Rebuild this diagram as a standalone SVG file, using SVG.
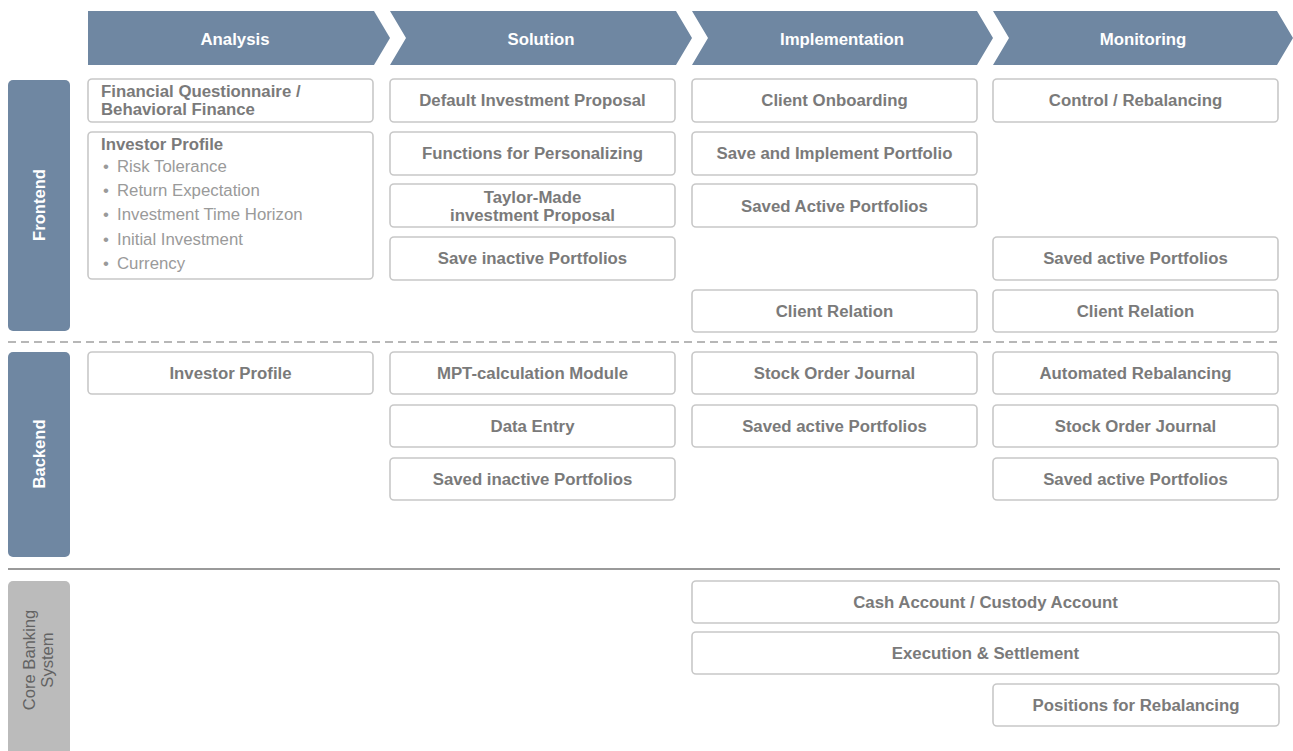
<svg xmlns="http://www.w3.org/2000/svg" width="1293" height="751" viewBox="0 0 1293 751">
<style>
text{font-family:"Liberation Sans",Arial,sans-serif;}
.chev{fill:#6f87a2;}
.ct{fill:#ffffff;font-size:16.8px;font-weight:bold;text-anchor:middle;}
.lane{fill:#6f87a2;}
.lt{fill:#ffffff;font-size:16.6px;font-weight:bold;text-anchor:middle;}
.lane2{fill:#bbbbbb;}
.lt2{fill:#636363;font-size:16.6px;text-anchor:middle;}
.box{fill:#ffffff;stroke:#c8c8c8;stroke-width:1.6;}
.bt{fill:#7a7a7a;font-size:16.8px;font-weight:bold;text-anchor:middle;}
.bl{fill:#7a7a7a;font-size:16.8px;font-weight:bold;}
.bu{fill:#9a9a9a;font-size:16.8px;}
</style>
<rect width="1293" height="751" fill="#ffffff"/>

<g id="phases">
<g id="phase-analysis"><polygon class="chev" points="88,11 374,11 390,38 374,65 88,65"/><text class="ct" x="235" y="44.5">Analysis</text></g>
<g id="phase-solution"><polygon class="chev" points="390,11 676,11 692,38 676,65 390,65 406,38"/><text class="ct" x="541" y="44.5">Solution</text></g>
<g id="phase-implementation"><polygon class="chev" points="692,11 977,11 993,38 977,65 692,65 708,38"/><text class="ct" x="842" y="44.5">Implementation</text></g>
<g id="phase-monitoring"><polygon class="chev" points="993,11 1277,11 1293,38 1277,65 993,65 1009,38"/><text class="ct" x="1143" y="44.5">Monitoring</text></g>
</g>

<g id="lanes">
<g id="lane-frontend"><rect class="lane" x="8" y="80" width="62" height="251" rx="5"/><text class="lt" transform="translate(44.5,205) rotate(-90)">Frontend</text></g>
<g id="lane-backend"><rect class="lane" x="8" y="352" width="62" height="205" rx="5"/><text class="lt" transform="translate(44.5,454) rotate(-90)">Backend</text></g>
<g id="lane-core"><rect class="lane2" x="8" y="581" width="62" height="200" rx="5"/><text class="lt2" transform="translate(35,660) rotate(-90)">Core Banking</text><text class="lt2" transform="translate(53,660) rotate(-90)">System</text></g>
</g>

<g id="connectors">
<line x1="8" y1="342" x2="1280" y2="342" stroke="#a0a0a0" stroke-width="1.5" stroke-dasharray="8 5"/>
<line x1="8" y1="569" x2="1280" y2="569" stroke="#9a9a9a" stroke-width="2"/>
</g>

<g id="frontend-nodes">
<g id="fe-questionnaire"><rect class="box" x="88" y="79" width="285" height="43" rx="4"/><text class="bl" x="101" y="96.5">Financial Questionnaire /</text><text class="bl" x="101" y="114.5">Behavioral Finance</text></g>
<g id="fe-investor-profile"><rect class="box" x="88" y="132" width="285" height="147" rx="4"/><text class="bl" x="101" y="149.5">Investor Profile</text>
<text class="bu" x="103" y="171.5">•</text><text class="bu" x="117" y="171.5">Risk Tolerance</text>
<text class="bu" x="103" y="195.5">•</text><text class="bu" x="117" y="195.5">Return Expectation</text>
<text class="bu" x="103" y="219.5">•</text><text class="bu" x="117" y="219.5">Investment Time Horizon</text>
<text class="bu" x="103" y="244.5">•</text><text class="bu" x="117" y="244.5">Initial Investment</text>
<text class="bu" x="103" y="268.5">•</text><text class="bu" x="117" y="268.5">Currency</text></g>
<g id="fe-default-proposal"><rect class="box" x="390" y="79" width="285" height="43" rx="4"/><text class="bt" x="532.5" y="106">Default Investment Proposal</text></g>
<g id="fe-personalizing"><rect class="box" x="390" y="132" width="285" height="43" rx="4"/><text class="bt" x="532.5" y="159">Functions for Personalizing</text></g>
<g id="fe-taylor-made"><rect class="box" x="390" y="184" width="285" height="43" rx="4"/><text class="bt" x="532.5" y="202.5">Taylor-Made</text><text class="bt" x="532.5" y="220.5">investment Proposal</text></g>
<g id="fe-save-inactive"><rect class="box" x="390" y="237" width="285" height="43" rx="4"/><text class="bt" x="532.5" y="264">Save inactive Portfolios</text></g>
<g id="fe-onboarding"><rect class="box" x="692" y="79" width="285" height="43" rx="4"/><text class="bt" x="834.5" y="106">Client Onboarding</text></g>
<g id="fe-save-implement"><rect class="box" x="692" y="132" width="285" height="43" rx="4"/><text class="bt" x="834.5" y="159">Save and Implement Portfolio</text></g>
<g id="fe-saved-active"><rect class="box" x="692" y="184" width="285" height="43" rx="4"/><text class="bt" x="834.5" y="211.5">Saved Active Portfolios</text></g>
<g id="fe-client-relation-impl"><rect class="box" x="692" y="290" width="285" height="42" rx="4"/><text class="bt" x="834.5" y="316.5">Client Relation</text></g>
<g id="fe-control"><rect class="box" x="993" y="79" width="285" height="43" rx="4"/><text class="bt" x="1135.5" y="106">Control / Rebalancing</text></g>
<g id="fe-saved-active-mon"><rect class="box" x="993" y="237" width="285" height="43" rx="4"/><text class="bt" x="1135.5" y="264">Saved active Portfolios</text></g>
<g id="fe-client-relation-mon"><rect class="box" x="993" y="290" width="285" height="42" rx="4"/><text class="bt" x="1135.5" y="316.5">Client Relation</text></g>
</g>

<g id="backend-nodes">
<g id="be-investor-profile"><rect class="box" x="88" y="352" width="285" height="42" rx="4"/><text class="bt" x="230.5" y="378.5">Investor Profile</text></g>
<g id="be-mpt"><rect class="box" x="390" y="352" width="285" height="42" rx="4"/><text class="bt" x="532.5" y="378.5">MPT-calculation Module</text></g>
<g id="be-data-entry"><rect class="box" x="390" y="405" width="285" height="42" rx="4"/><text class="bt" x="532.5" y="431.5">Data Entry</text></g>
<g id="be-saved-inactive"><rect class="box" x="390" y="458" width="285" height="42" rx="4"/><text class="bt" x="532.5" y="484.5">Saved inactive Portfolios</text></g>
<g id="be-order-journal-impl"><rect class="box" x="692" y="352" width="285" height="42" rx="4"/><text class="bt" x="834.5" y="378.5">Stock Order Journal</text></g>
<g id="be-saved-active-impl"><rect class="box" x="692" y="405" width="285" height="42" rx="4"/><text class="bt" x="834.5" y="431.5">Saved active Portfolios</text></g>
<g id="be-auto-rebalancing"><rect class="box" x="993" y="352" width="285" height="42" rx="4"/><text class="bt" x="1135.5" y="378.5">Automated Rebalancing</text></g>
<g id="be-order-journal-mon"><rect class="box" x="993" y="405" width="285" height="42" rx="4"/><text class="bt" x="1135.5" y="431.5">Stock Order Journal</text></g>
<g id="be-saved-active-mon"><rect class="box" x="993" y="458" width="285" height="42" rx="4"/><text class="bt" x="1135.5" y="484.5">Saved active Portfolios</text></g>
</g>

<g id="core-nodes">
<g id="cb-accounts"><rect class="box" x="692" y="581" width="587" height="42" rx="4"/><text class="bt" x="985.5" y="607.5">Cash Account / Custody Account</text></g>
<g id="cb-execution"><rect class="box" x="692" y="632" width="587" height="42" rx="4"/><text class="bt" x="985.5" y="658.5">Execution &amp; Settlement</text></g>
<g id="cb-positions"><rect class="box" x="993" y="684" width="286" height="42" rx="4"/><text class="bt" x="1136" y="710.5">Positions for Rebalancing</text></g>
</g>
</svg>
